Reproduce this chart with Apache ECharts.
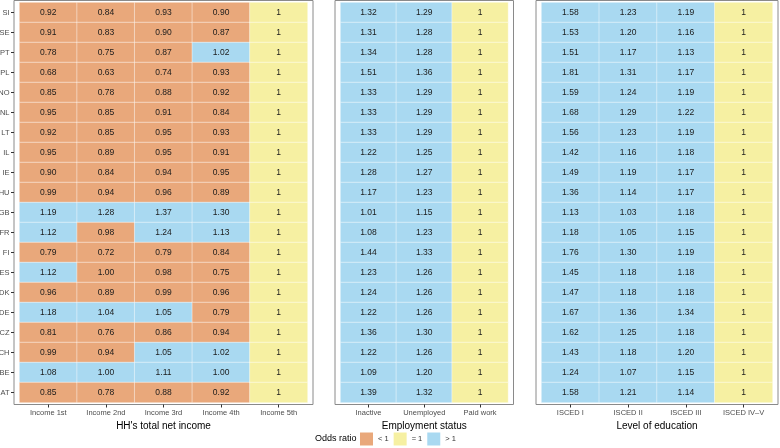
<!DOCTYPE html>
<html><head><meta charset="utf-8">
<script src="https://cdn.jsdelivr.net/npm/echarts@6/dist/echarts.min.js"></script>
<style>html,body{margin:0;padding:0;background:#fff}#c{width:780px;height:448px}</style>
</head><body><div id="c"></div>
<script>
const countries = ['SI','SE','PT','PL','NO','NL','LT','IL','IE','HU','GB','FR','FI','ES','DK','DE','CZ','CH','BE','AT'];
const incomeCats = ['Income 1st','Income 2nd','Income 3rd','Income 4th','Income 5th'];
const employCats = ['Inactive','Unemployed','Paid work'];
const eduCats = ['ISCED I','ISCED II','ISCED III','ISCED IV\u2013V'];

const income1st = [0.92,0.91,0.78,0.68,0.85,0.95,0.92,0.95,0.90,0.99,1.19,1.12,0.79,1.12,0.96,1.18,0.81,0.99,1.08,0.85];
const income2nd = [0.84,0.83,0.75,0.63,0.78,0.85,0.85,0.89,0.84,0.94,1.28,0.98,0.72,0.998,0.89,1.04,0.76,0.94,1.004,0.78];
const income3rd = [0.93,0.90,0.87,0.74,0.88,0.91,0.95,0.95,0.94,0.96,1.37,1.24,0.79,0.98,0.99,1.05,0.86,1.05,1.11,0.88];
const income4th = [0.90,0.87,1.02,0.93,0.92,0.84,0.93,0.91,0.95,0.89,1.30,1.13,0.84,0.75,0.96,0.79,0.94,1.02,1.003,0.92];
const income5th = [1,1,1,1,1,1,1,1,1,1,1,1,1,1,1,1,1,1,1,1];

const inactive   = [1.32,1.31,1.34,1.51,1.33,1.33,1.33,1.22,1.28,1.17,1.01,1.08,1.44,1.23,1.24,1.22,1.36,1.22,1.09,1.39];
const unemployed = [1.29,1.28,1.28,1.36,1.29,1.29,1.29,1.25,1.27,1.23,1.15,1.23,1.33,1.26,1.26,1.26,1.30,1.26,1.20,1.32];
const paidWork   = [1,1,1,1,1,1,1,1,1,1,1,1,1,1,1,1,1,1,1,1];

const iscedI   = [1.58,1.53,1.51,1.81,1.59,1.68,1.56,1.42,1.49,1.36,1.13,1.18,1.76,1.45,1.47,1.67,1.62,1.43,1.24,1.58];
const iscedII  = [1.23,1.20,1.17,1.31,1.24,1.29,1.23,1.16,1.19,1.14,1.03,1.05,1.30,1.18,1.18,1.36,1.25,1.18,1.07,1.21];
const iscedIII = [1.19,1.16,1.13,1.17,1.19,1.22,1.19,1.18,1.17,1.17,1.18,1.15,1.19,1.18,1.18,1.34,1.18,1.20,1.15,1.14];
const iscedIV  = [1,1,1,1,1,1,1,1,1,1,1,1,1,1,1,1,1,1,1,1];

const legendTitle = 'Odds ratio';
const legendLabels = ['< 1','= 1','> 1'];

const ORANGE = '#E9A87B', YELLOW = '#F6F0A2', BLUE = '#A9D9F1';
const FONT = '"Liberation Sans", Arial, sans-serif';

function build(cols){
  const d = [];
  cols.forEach((arr, ci) => arr.forEach((v, ri) => d.push([ci, ri, v])));
  return d;
}
const panels = [
  {cats: incomeCats, cols: [income1st,income2nd,income3rd,income4th,income5th], name: "HH's total net income", left: 19.5, width: 288},
  {cats: employCats, cols: [inactive,unemployed,paidWork], name: 'Employment status', left: 340.5, width: 167.5},
  {cats: eduCats, cols: [iscedI,iscedII,iscedIII,iscedIV], name: 'Level of education', left: 541.5, width: 231}
];
const TOP = 2.5, H = 400, PADX = 5.5, PADY = 2;

const grid = [], xAxis = [], yAxis = [], series = [];
panels.forEach((p, i) => {
  grid.push({left: p.left, top: TOP, width: p.width, height: H, show: false,
    containLabel: false, outerBoundsMode: 'none'});
  xAxis.push({type: 'category', gridIndex: i, data: p.cats, position: 'bottom', offset: PADY,
    axisLine: {show: false}, axisTick: {show: true, alignWithLabel: true, length: 3, lineStyle: {color: '#333', width: 1}},
    axisLabel: {fontSize: 7.5, color: '#4d4d4d', margin: 4, fontFamily: FONT, interval: 0},
    splitLine: {show: false}, name: p.name, nameLocation: 'middle', nameGap: 12.5,
    nameTextStyle: {fontSize: 10, color: '#000', fontFamily: FONT, verticalAlign: 'top'}});
  yAxis.push({type: 'category', gridIndex: i, data: countries, inverse: true, offset: PADX,
    axisLine: {show: false}, axisTick: {show: i === 0, alignWithLabel: true, length: 3, lineStyle: {color: '#333', width: 1}},
    axisLabel: {show: i === 0, fontSize: 7.5, color: '#4d4d4d', margin: 4.5, fontFamily: FONT},
    splitLine: {show: false}});
  series.push({type: 'heatmap', xAxisIndex: i, yAxisIndex: i, data: build(p.cols),
    itemStyle: {borderColor: 'rgba(255,255,255,0.75)', borderWidth: 0.6},
    label: {show: true, fontSize: 8.5, color: '#1a1a1a', fontFamily: FONT,
      formatter: o => o.value[2] === 1 ? '1' : o.value[2].toFixed(2)},
    emphasis: {disabled: true}});
});
panels.forEach((p, i) => {
  grid.push({left: p.left - PADX, top: TOP - PADY, width: p.width + 2*PADX, height: H + 2*PADY,
    show: true, borderColor: '#8a8a8a', borderWidth: 1, backgroundColor: 'transparent',
    containLabel: false, outerBoundsMode: 'none'});
  xAxis.push({type: 'value', gridIndex: 3 + i, show: false});
  yAxis.push({type: 'value', gridIndex: 3 + i, show: false});
});

const chart = echarts.init(document.getElementById('c'), null, {renderer: 'canvas'});
chart.setOption({
  animation: false,
  grid, xAxis, yAxis, series,
  visualMap: {
    type: 'piecewise', seriesIndex: [0,1,2], orient: 'horizontal', left: 360, top: 432.5,
    padding: 0, itemWidth: 13, itemHeight: 13, itemGap: 5, textGap: 5, itemSymbol: 'rect',
    hoverLink: false, show: true,
    textStyle: {fontSize: 7.5, color: '#333', fontFamily: FONT},
    pieces: [
      {lt: 1, label: legendLabels[0], color: ORANGE},
      {value: 1, label: legendLabels[1], color: YELLOW},
      {gt: 1, label: legendLabels[2], color: BLUE}
    ]
  },
  graphic: [{type: 'text', left: 315, top: 434.5,
    style: {text: legendTitle, fontSize: 9, fill: '#000', fontFamily: FONT}}]
});
</script></body></html>
